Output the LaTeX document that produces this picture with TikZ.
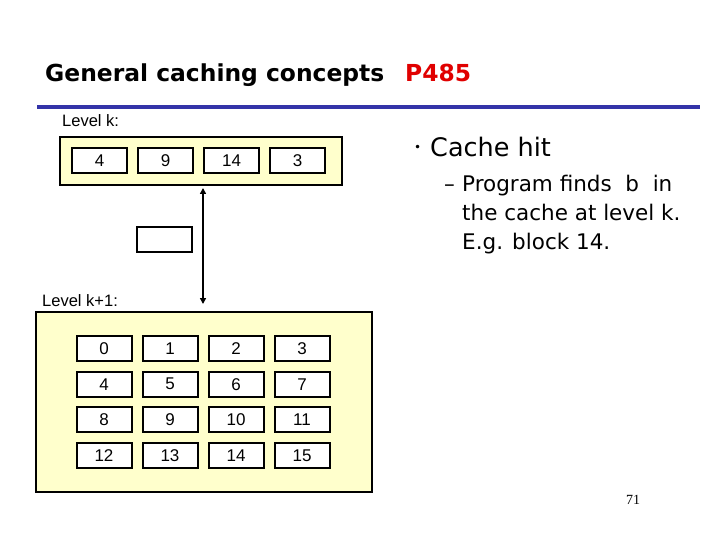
\documentclass[tikz,border=0pt]{standalone}
\usepackage{fontspec}
\setmainfont{Liberation Sans}
\newfontfamily\slidefont{DejaVu Sans}
\newfontfamily\pagefont{Liberation Serif}
\usetikzlibrary{arrows.meta,positioning}
\definecolor{ruleBlue}{HTML}{3333A8}
\definecolor{cacheYellow}{HTML}{FFFFCC}
\definecolor{titleRed}{HTML}{E00000}

\begin{document}
\begin{tikzpicture}[x=1pt, y=-1pt,
  blk/.style={draw, line width=2pt, fill=white, minimum width=55pt,
    minimum height=25pt, inner sep=0pt, font=\fontsize{17}{17}\selectfont},
  levelbox/.style={draw, line width=2pt, fill=cacheYellow, inner sep=0pt},
  levellabel/.style={anchor=base west, inner sep=0pt, font=\fontsize{16.5}{16.5}\selectfont},
  bodytext/.style={anchor=base west, inner sep=0pt, font=\slidefont\fontsize{21.5}{21.5}\selectfont}]
\useasboundingbox (0,0) rectangle (720,540);
% ---------------- title and rule ----------------
\node[anchor=base west, inner sep=0pt, font=\slidefont\bfseries\fontsize{23.4}{23.4}\selectfont]
  (title) at (45,82) {General caching concepts};
\node[anchor=base west, inner sep=0pt, text=titleRed, font=\slidefont\bfseries\fontsize{23.4}{23.4}\selectfont]
  (page) at (405,82) {P485};
\draw[ruleBlue, line width=4pt] (37,107) -- (700,107);
% ---------------- level k (cache) ----------------
\node[levellabel] (lk label) at (62,127) {Level k:};
\node[levelbox, minimum width=282pt, minimum height=48pt] (lk) at (201,161) {};
\foreach \v [count=\i from 0] in {4,9,14,3}
  \node[blk] (k\v) at (99.5+66*\i,160.5) {\v};
\node[blk] (slot) at (164.5,239.5) {};
% ---------------- level k+1 (memory) ----------------
\node[levellabel] (lk1 label) at (42,306) {Level k+1:};
\node[levelbox, minimum width=336pt, minimum height=180pt] (lk1) at (204,402) {};
\foreach \r in {0,...,3}
  \foreach \c in {0,...,3}
  {
    \pgfmathtruncatemacro{\b}{4*\r+\c}
    \node[blk] (m\b) at (104+66*\c,348.5+35.7*\r) {\b};
  }
% transfer path between the levels
\coordinate (bus end) at (203,304);
\draw[line width=2pt, {Triangle[length=6pt,width=6pt]}-{Triangle[length=6pt,width=6pt]}]
  (lk.south -| k14.west) ++(0,2) -- (bus end);
% ---------------- bullet text ----------------
\node[anchor=base west, inner sep=0pt, font=\slidefont\fontsize{12}{12}\selectfont] (dot) at (414,152) {•};
\node[bodytext, font=\slidefont\fontsize{25.5}{25.5}\selectfont] (hit) at (430,157) {Cache hit};
\node[bodytext] (dash) at (444,192) {–};
\node[bodytext] (line1) at (462,192) {Program finds \ b \ in};
\node[bodytext] (line2) at (462,221) {the cache at level k.};
\node[bodytext] (line3) at (462,249) {E.g. block 14.};
\node[font=\pagefont\fontsize{14}{14}\selectfont] (num) at (633,500) {71};
\end{tikzpicture}
\end{document}
